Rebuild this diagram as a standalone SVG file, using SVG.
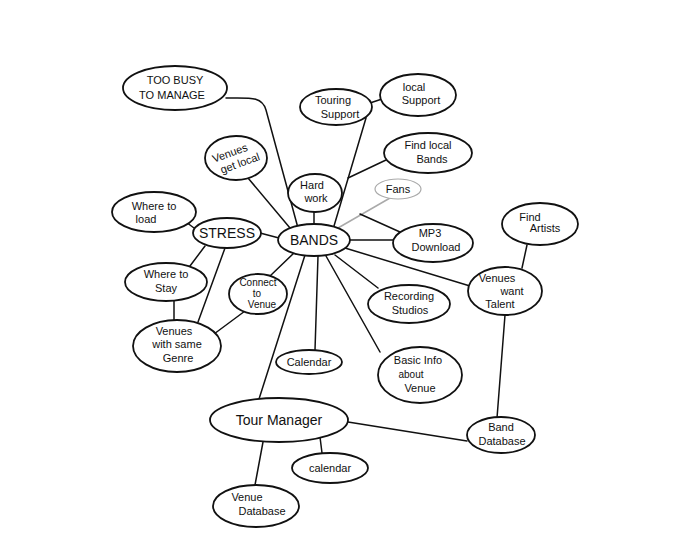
<svg xmlns="http://www.w3.org/2000/svg" width="700" height="541" viewBox="0 0 700 541">
<style>
.n ellipse{fill:#fff;stroke:#111;stroke-width:1.8}
.c path,.c line{fill:none;stroke:#111;stroke-width:1.5;stroke-linecap:round}
.c .g{stroke:#aaa}
text{font-family:"Liberation Sans","DejaVu Sans",sans-serif;font-size:11px;fill:#111;text-anchor:middle}
.big{font-size:14px}
</style>
<rect width="700" height="541" fill="#fff"/>
<g id="connectors" class="c">
<path d="M226,98 C250,98 262,96 266,110 L298,228"/>
<line x1="248" y1="178" x2="290" y2="228"/>
<line x1="314" y1="211" x2="314" y2="225"/>
<line x1="366" y1="118" x2="334" y2="226"/>
<line x1="370" y1="103" x2="382" y2="99"/>
<line x1="386" y1="160" x2="348" y2="178"/>
<line class="g" x1="390" y1="198" x2="338" y2="228"/>
<line x1="350" y1="240" x2="393" y2="240"/>
<line x1="360" y1="214" x2="400" y2="232"/>
<line x1="345" y1="248" x2="470" y2="286"/>
<line x1="335" y1="255" x2="378" y2="288"/>
<line x1="326" y1="256" x2="380" y2="352"/>
<line x1="318" y1="256" x2="315" y2="350"/>
<line x1="305" y1="255" x2="259" y2="399"/>
<line x1="295" y1="252" x2="270" y2="276"/>
<line x1="260" y1="233" x2="279" y2="238"/>
<line x1="194" y1="228" x2="186" y2="222"/>
<line x1="205" y1="246" x2="190" y2="266"/>
<line x1="225" y1="248" x2="198" y2="322"/>
<line x1="174" y1="300" x2="174" y2="320"/>
<line x1="245" y1="311" x2="214" y2="334"/>
<line x1="527" y1="245" x2="522" y2="268"/>
<line x1="505" y1="315" x2="497" y2="418"/>
<line x1="348" y1="422" x2="467" y2="441"/>
<line x1="320" y1="437" x2="322" y2="453"/>
<line x1="263" y1="442" x2="255" y2="485"/>
</g>
<g id="too-busy" class="n"><ellipse cx="175" cy="88" rx="52" ry="22"/><text x="175" y="84">TOO BUSY</text><text x="172" y="99">TO MANAGE</text></g>
<g id="touring-support" class="n"><ellipse cx="336" cy="107" rx="36" ry="18"/><text x="333" y="104">Touring</text><text x="340" y="118">Support</text></g>
<g id="local-support" class="n"><ellipse cx="418" cy="95" rx="38" ry="21"/><text x="414" y="91">local</text><text x="421" y="104">Support</text></g>
<g id="find-local-bands" class="n"><ellipse cx="428" cy="153" rx="44" ry="20"/><text x="428" y="149">Find local</text><text x="432" y="163">Bands</text></g>
<g id="fans" class="n"><ellipse cx="398" cy="189" rx="23" ry="10" style="stroke:#aaa;stroke-width:1.2"/><text x="398" y="193">Fans</text></g>
<g id="hard-work" class="n"><ellipse cx="315" cy="193" rx="27" ry="19"/><text x="312" y="189">Hard</text><text x="316" y="202">work</text></g>
<g id="bands" class="n"><ellipse cx="314" cy="240" rx="36" ry="16"/><text class="big" x="314" y="245">BANDS</text></g>
<g id="mp3-download" class="n"><ellipse cx="433" cy="243" rx="40" ry="19"/><text x="430" y="237">MP3</text><text x="436" y="251">Download</text></g>
<g id="venues-get-local" class="n"><ellipse cx="236" cy="158" rx="31" ry="22"/><text x="232" y="155" transform="rotate(-20 236 158)">Venues</text><text x="238" y="168" transform="rotate(-20 236 158)">get local</text></g>
<g id="where-to-load" class="n"><ellipse cx="154" cy="212" rx="42" ry="20"/><text x="154" y="210">Where to</text><text x="146" y="223">load</text></g>
<g id="stress" class="n"><ellipse cx="227" cy="233" rx="34" ry="15"/><text class="big" x="227" y="238">STRESS</text></g>
<g id="where-to-stay" class="n"><ellipse cx="166" cy="282" rx="41" ry="19"/><text x="166" y="278">Where to</text><text x="166" y="292">Stay</text></g>
<g id="connect-to-venue" class="n"><ellipse cx="258" cy="294" rx="29" ry="20"/><text x="258" y="286" style="font-size:10px">Connect</text><text x="257" y="297" style="font-size:10px">to</text><text x="262" y="308" style="font-size:10px">Venue</text></g>
<g id="venues-same-genre" class="n"><ellipse cx="177" cy="346" rx="44" ry="26"/><text x="174" y="335">Venues</text><text x="177" y="348">with same</text><text x="178" y="362">Genre</text></g>
<g id="calendar" class="n"><ellipse cx="309" cy="362" rx="33" ry="12"/><text x="309" y="366">Calendar</text></g>
<g id="recording-studios" class="n"><ellipse cx="409" cy="304" rx="41" ry="19"/><text x="409" y="300">Recording</text><text x="410" y="314">Studios</text></g>
<g id="basic-info" class="n"><ellipse cx="420" cy="375" rx="42" ry="28"/><text x="418" y="364">Basic Info</text><text x="411" y="378" style="font-size:10px">about</text><text x="420" y="392">Venue</text></g>
<g id="find-artists" class="n"><ellipse cx="540" cy="224" rx="38" ry="21"/><text x="530" y="221">Find</text><text x="545" y="232">Artists</text></g>
<g id="venues-want-talent" class="n"><ellipse cx="505" cy="291" rx="37" ry="24"/><text x="497" y="282">Venues</text><text x="512" y="295">want</text><text x="500" y="308">Talent</text></g>
<g id="tour-manager" class="n"><ellipse cx="279" cy="420" rx="69" ry="22"/><text class="big" x="279" y="425">Tour Manager</text></g>
<g id="calendar-2" class="n"><ellipse cx="330" cy="468" rx="38" ry="15"/><text x="330" y="472">calendar</text></g>
<g id="venue-database" class="n"><ellipse cx="256" cy="506" rx="43" ry="21"/><text x="247" y="501">Venue</text><text x="262" y="515">Database</text></g>
<g id="band-database" class="n"><ellipse cx="501" cy="435" rx="34" ry="18"/><text x="501" y="431">Band</text><text x="502" y="445">Database</text></g>
</svg>
